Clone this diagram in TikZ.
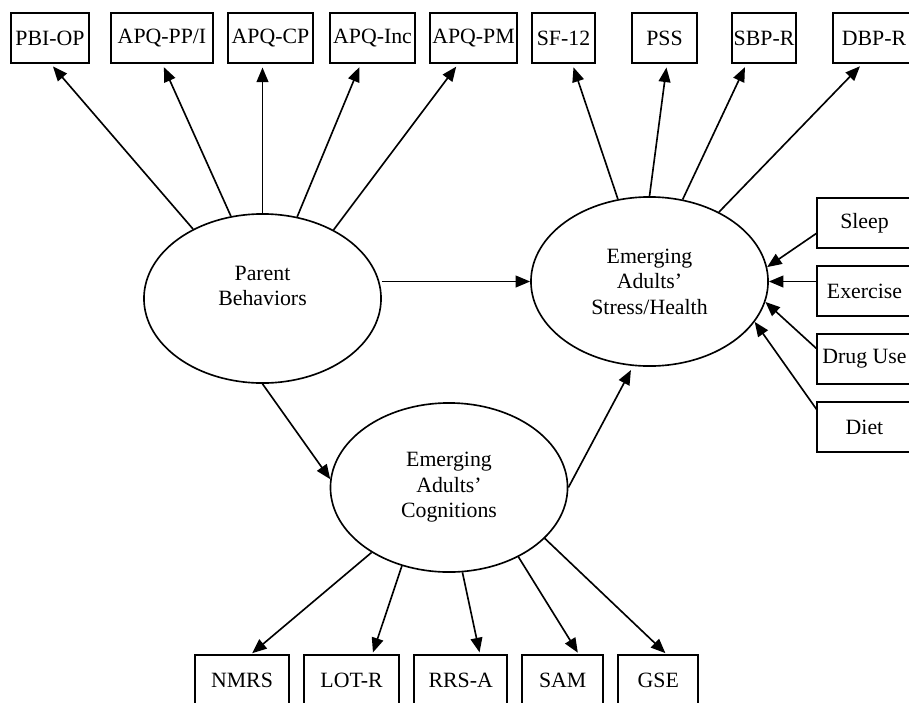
\documentclass[tikz,border=0pt]{standalone}
\usepackage{fontspec}
\setmainfont{Liberation Serif}
\usepackage{tikz}
\usetikzlibrary{arrows.meta,positioning,shapes.geometric}

\begin{document}
\begin{tikzpicture}[
  x=0.55pt, y=-0.55pt,
  font=\fontsize{12}{14}\selectfont,
  box/.style={rectangle, draw, line width=1.1pt, minimum height=27.5pt, inner sep=1pt, outer sep=0pt},
  latent/.style={ellipse, draw, line width=0.9pt, minimum width=130.4pt, minimum height=93pt, inner sep=0pt, align=center},
  arr/.style={-{Triangle[length=8pt,width=6.5pt]}, line width=0.9pt},
  gap/.style={shorten >=2.5pt}
]
\useasboundingbox (0,0) rectangle (909,702);

% latent variables
\node[latent] (parent) at (262.5,298.5) {Parent\\Behaviors\\~};
\node[latent] (stress) at (649.5,281.5) {Emerging\\Adults'\\Stress/Health};
\node[latent] (cog) at (449,487.5) {Emerging\\Adults'\\Cognitions};

% top indicators
\node[box, minimum width=42.9pt] (pbiop) at (50,38) {PBI-OP};
\node[box, minimum width=56.1pt] (apqppi) at (162,38) {APQ-PP/I};
\node[box, minimum width=46.8pt] (apqcp) at (270.5,38) {APQ-CP};
\node[box, minimum width=46.8pt] (apqinc) at (372.5,38) {APQ-Inc};
\node[box, minimum width=45.7pt] (apqpm) at (473.5,38) {APQ-PM};
\node[box, minimum width=34.7pt] (sf) at (563.5,38) {SF-12};
\node[box, minimum width=35.8pt] (pss) at (664.5,38) {PSS};
\node[box, minimum width=34.1pt] (sbpr) at (764,38) {SBP-R};
\node[box, minimum width=45.1pt] (dbpr) at (874,38) {DBP-R};

% health behaviours
\node[box, minimum width=52.3pt] (sleep) at (864.5,223) {Sleep};
\node[box, minimum width=52.3pt, below=9.9pt of sleep] (exercise) {Exercise};
\node[box, minimum width=52.3pt, below=9.9pt of exercise] (druguse) {Drug Use};
\node[box, minimum width=52.3pt, below=9.9pt of druguse] (diet) {Diet};

% cognition indicators
\node[box, minimum width=51.7pt] (nmrs) at (242,680) {NMRS};
\node[box, minimum width=52.3pt, right=8.25pt of nmrs] (lotr) {LOT-R};
\node[box, minimum width=51.2pt, right=8.25pt of lotr] (rrsa) {RRS-A};
\node[box, minimum width=44.6pt, right=8.25pt of rrsa] (sam) {SAM};
\node[box, minimum width=44pt, right=8.25pt of sam] (gse) {GSE};

% structural paths
\draw[arr] (parent.east |- stress.west) -- (stress.west);
\draw[arr] (parent.south) -- (cog.176);
\draw[arr, gap] (cog.east) -- (stress.259);

% loadings
\draw[arr, gap] (parent.135) -- (pbiop.south);
\draw[arr, gap] (parent.111) -- (apqppi.south);
\draw[arr, gap] (parent.north) -- (parent.north |- apqcp.south);
\draw[arr, gap] (parent.67) -- ([xshift=-6.3pt]apqinc.south);
\draw[arr, gap] (parent.44) -- ([xshift=-8pt]apqpm.south);

\draw[arr, gap] (stress.111) -- ([xshift=4.7pt]sf.south);
\draw[arr, gap] (stress.north) -- ([xshift=1.4pt]pss.south);
\draw[arr, gap] (stress.68) -- ([xshift=-9.4pt]sbpr.south);
\draw[arr, gap] (stress.45) -- ([xshift=-6pt]dbpr.south);

\draw[arr] ([yshift=-5.5pt]sleep.west) -- (stress.7);
\draw[arr] (stress.east -| exercise.west) -- (stress.east);
\draw[arr] ([yshift=5.5pt]druguse.west) -- (stress.350);
\draw[arr] ([yshift=9.4pt]diet.west) -- (stress.339);

\draw[arr, shorten >=1.5pt] (cog.220) -- ([xshift=4.4pt]nmrs.north);
\draw[arr, shorten >=1.5pt] (cog.239) -- ([xshift=11.3pt]lotr.north);
\draw[arr, shorten >=1.5pt] (cog.279) -- ([xshift=10.7pt]rrsa.north);
\draw[arr, shorten >=1.5pt] (cog.315) -- ([xshift=9.1pt]sam.north);
\draw[arr, shorten >=1.5pt] (cog.332) -- ([xshift=5pt]gse.north);
\end{tikzpicture}
\end{document}
